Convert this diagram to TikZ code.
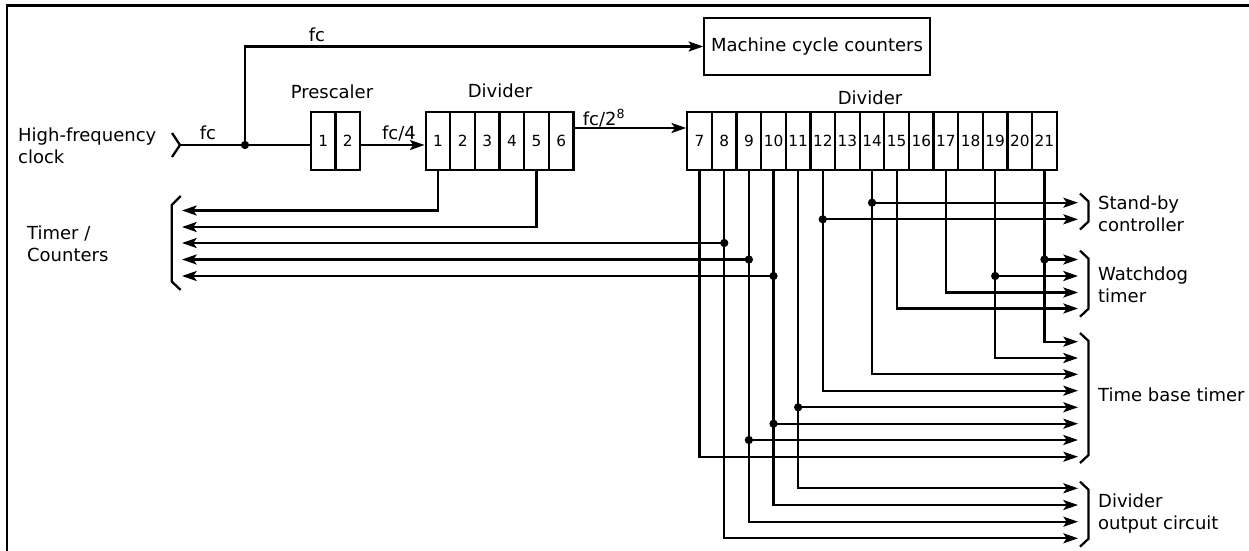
\documentclass[tikz,border=0pt]{standalone}
\usepackage{fontspec}
\setmainfont{DejaVu Sans}
\usetikzlibrary{arrows.meta}
\begin{document}
\begin{tikzpicture}[x=0.75pt,y=-0.75pt,
  line width=1.7pt,
  cell/.style={draw, minimum width=18.47pt, minimum height=43.5pt, inner sep=0pt, font=\fontsize{11.5}{13}\selectfont},
  lbl/.style={font=\fontsize{13.5}{16.5}\selectfont, inner sep=0pt},
  arr/.style={-{Stealth[length=11pt,width=7.5pt,inset=2.5pt]}},
  dot/.style={circle, fill, inner sep=0pt, minimum size=6.2pt},
]
\useasboundingbox (0,0) rectangle (1249,550);
% frame
\draw (7,551) -- (7,5.5) -- (1250,5.5);

% input
\coordinate (in) at (180,145);
\draw (172,133) -- (in) -- (172,157);
\node[lbl, align=left, anchor=west] (hfc) at (17,146) {High-frequency\\clock};

% prescaler
\node[cell] (p1) at (323.25,141) {1};
\node[cell] (p2) at (347.75,141) {2};
\node[lbl] (pl) at (332,92) {Prescaler};

% divider 1
\foreach \i in {1,...,6}
  \node[cell] (a\i) at ({425.7+24.63*(\i-0.5)},141) {\i};
\node[lbl] (d1l) at (500,91) {Divider};

% divider 2
\foreach \j in {7,...,21}
  \node[cell] (b\j) at ({687.3+24.63*(\j-6.5)},141) {\j};
\node[lbl] (d2l) at (870,98) {Divider};

% machine cycle counters
\node[draw, lbl, minimum width=169pt, minimum height=42.75pt] (mcc) at (817,46.5) {Machine cycle counters};

% clock paths
\coordinate (j) at (245,145);
\draw (in) -- (in -| p1.west);
\node[dot] at (j) {};
\draw[arr] (j) |- (mcc.west);
\node[lbl] at (208,133) {fc};
\node[lbl] at (317,35) {fc};
\draw[arr] (p2.east |- in) -- (a1.west |- in);
\node[lbl] at (399,133) {fc/4};
\draw[arr] ([yshift=9.75pt]a6.east) -- ([yshift=9.75pt]b7.west);
\node[lbl] at (604,118) {fc/2\textsuperscript{8}};

% left targets (Timer/Counters)
\coordinate (t1) at (182,210.5);
\coordinate (t2) at (182,227);
\coordinate (t3) at (182,243);
\coordinate (t4) at (182,259.5);
\coordinate (t5) at (182,276);
\draw (180.7,196) -- (171.7,205) -- (171.7,281.5) -- (180.7,290);
\node[lbl, align=left, anchor=west] (tcl) at (26,244) {Timer /\\Counters};

% right targets
\coordinate (s1) at (1078,202.7);
\coordinate (s2) at (1078,219.3);
\coordinate (w1) at (1078,259.5);
\coordinate (w2) at (1078,276);
\coordinate (w3) at (1078,292.5);
\coordinate (w4) at (1078,308.5);
\coordinate (tb1) at (1078,341.7);
\coordinate (tb2) at (1078,358);
\coordinate (tb3) at (1078,374.3);
\coordinate (tb4) at (1078,390.7);
\coordinate (tb5) at (1078,407.3);
\coordinate (tb6) at (1078,423.7);
\coordinate (tb7) at (1078,440);
\coordinate (tb8) at (1078,456.7);
\coordinate (o1) at (1078,488.3);
\coordinate (o2) at (1078,505);
\coordinate (o3) at (1078,521.7);
\coordinate (o4) at (1078,538.3);

% brackets right
\draw (1080,193.5) -- (1088.5,201.5) -- (1088.5,221.5) -- (1080,229.5);
\draw (1080,250.7) -- (1088.5,258.7) -- (1088.5,308.7) -- (1080,316.7);
\draw (1080,333) -- (1088.5,341) -- (1088.5,455) -- (1080,463);
\draw (1080,481.7) -- (1088.5,489.7) -- (1088.5,538.7) -- (1080,546.7);
\node[lbl, align=left, anchor=west] (sbl) at (1097,213.5) {Stand-by\\controller};
\node[lbl, align=left, anchor=west] (wdl) at (1097,285) {Watchdog\\timer};
\node[lbl, anchor=west] (tbl) at (1097,395) {Time base timer};
\node[lbl, align=left, anchor=west] (dol) at (1097,514) {Divider\\output circuit};

% main taps
\draw[arr] (a1.south) |- (t1);
\draw[arr] (a5.south) |- (t2);
\draw[arr] (b7.south) |- (tb8);
\draw[arr] (b8.south) |- (o4);
\draw[arr] (b9.south) |- (o3);
\draw[arr] (b10.south) |- (o2);
\draw[arr] (b11.south) |- (o1);
\draw[arr] (b12.south) |- (tb4);
\draw[arr] (b14.south) |- (tb3);
\draw[arr] (b15.south) |- (w4);
\draw[arr] (b17.south) |- (w3);
\draw[arr] (b19.south) |- (tb2);
\draw[arr] (b21.south) |- (tb1);

% branches
\draw[arr] (b8.south |- t3) node[dot]{} -- (t3);
\draw[arr] (b9.south |- t4) node[dot]{} -- (t4);
\draw[arr] (b10.south |- t5) node[dot]{} -- (t5);
\draw[arr] (b14.south |- s1) node[dot]{} -- (s1);
\draw[arr] (b12.south |- s2) node[dot]{} -- (s2);
\draw[arr] (b21.south |- w1) node[dot]{} -- (w1);
\draw[arr] (b19.south |- w2) node[dot]{} -- (w2);
\draw[arr] (b11.south |- tb5) node[dot]{} -- (tb5);
\draw[arr] (b10.south |- tb6) node[dot]{} -- (tb6);
\draw[arr] (b9.south |- tb7) node[dot]{} -- (tb7);
\end{tikzpicture}
\end{document}
